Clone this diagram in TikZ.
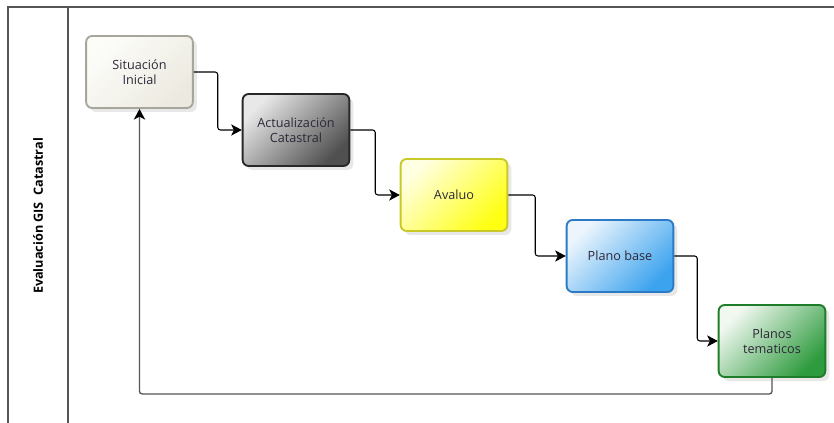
\documentclass[tikz,border=0pt]{standalone}
\usepackage{fontspec}
\setmainfont{Open Sans}
\usetikzlibrary{arrows.meta,shadows}
\definecolor{poolline}{RGB}{85,85,85}
\definecolor{txtdark}{RGB}{45,40,55}
\definecolor{inilight}{RGB}{252,252,249}
\definecolor{inidark}{RGB}{236,234,224}
\definecolor{iniborder}{RGB}{168,166,156}
\definecolor{actlight}{RGB}{232,232,232}
\definecolor{actdark}{RGB}{80,80,80}
\definecolor{actborder}{RGB}{40,40,40}
\definecolor{avalight}{RGB}{255,255,225}
\definecolor{avadark}{RGB}{255,255,20}
\definecolor{avaborder}{RGB}{200,200,40}
\definecolor{baselight}{RGB}{236,245,253}
\definecolor{basedark}{RGB}{60,163,238}
\definecolor{baseborder}{RGB}{44,122,196}
\definecolor{temlight}{RGB}{240,248,240}
\definecolor{temdark}{RGB}{46,155,62}
\definecolor{temborder}{RGB}{30,125,40}

\begin{document}
\begin{tikzpicture}[x=0.75pt,y=-0.75pt,
  task/.style={rounded corners=4.5pt, line width=1.4pt,
    minimum width=80pt, minimum height=54pt,
    font=\fontsize{9.5}{11.5}\selectfont, align=center, text=txtdark,
    drop shadow={opacity=0.18, shadow xshift=3pt, shadow yshift=-3pt}},
  grad/.style 2 args={top color=#1, bottom color=#2, shading angle=45},
  flow/.style={-{Stealth[length=8pt,width=8.5pt,inset=2.2pt,color=black]},
    line width=0.8pt, rounded corners=2pt, black},
  back/.style={flow, draw=poolline, line width=1pt},
  pool/.style={draw=poolline, line width=1.1pt},
  lanelbl/.style={rotate=90, font=\bfseries\fontsize{9.5}{11}\selectfont}
]
\useasboundingbox (0,0) rectangle (834,423);
% pool and lane
\draw[pool] (834,7) -- (8,7) -- (8,423);
\draw[pool] (68,7) -- (68,423);
\node[lanelbl] (lane) at (38,216) {Evaluación GIS\enspace Catastral};
% tasks
\node[task, draw=iniborder, grad={inilight}{inidark}] (ini) at (139.5,72) {Situación\\Inicial};
\node[task, draw=actborder, grad={actlight}{actdark}] (act) at (296,130) {Actualización\\Catastral};
\node[task, draw=avaborder, grad={avalight}{avadark}] (ava) at (454,195) {Avaluo};
\node[task, draw=baseborder, grad={baselight}{basedark}] (base) at (620,256) {Plano base};
\node[task, draw=temborder, grad={temlight}{temdark}] (tem) at (772,341) {Planos\\tematicos};
% sequence flows
\draw[flow] (ini.east) -- ++(24,0) |- (act.west);
\draw[flow] (act.east) -- ++(25,0) |- (ava.west);
\draw[flow] (ava.east) -- ++(27,0) |- (base.west);
\draw[flow] (base.east) -- ++(23,0) |- (tem.west);
\draw[back] (tem.south) -- ++(0,16) -| (ini.south);
\end{tikzpicture}
\end{document}
